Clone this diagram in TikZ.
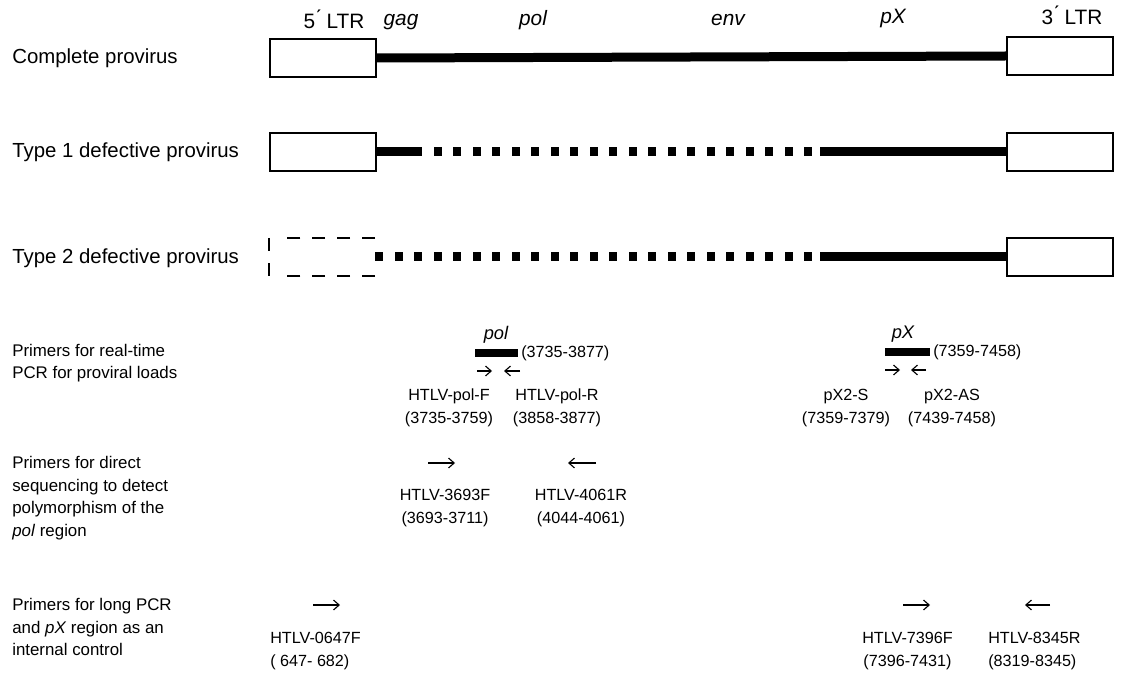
\documentclass[tikz,border=0pt]{standalone}
\usepackage{fontspec}
\setmainfont{Liberation Sans}
\usetikzlibrary{arrows.meta}
\tikzset{
  ltrbox/.style={draw, line width=1.6pt, minimum width=2.65cm, minimum height=0.95cm, inner sep=0pt},
  genome/.style={line width=6.4pt},
  rowlabel/.style={anchor=west, inner sep=0pt, font=\fontsize{14.5}{17}\selectfont},
  primerlabel/.style={anchor=west, inner sep=0pt, align=left, font=\fontsize{12}{16}\selectfont},
  genelabel/.style={inner sep=0pt, font=\fontsize{14.8}{17}\selectfont\itshape},
  ltrlabel/.style={inner sep=0pt, font=\fontsize{14.8}{17}\selectfont},
  primername/.style={inner sep=0pt, align=center, font=\fontsize{11.5}{16.3}\selectfont},
  primerarrow/.style={-{Straight Barb[length=4pt,width=7pt]}, line width=0.8pt},
}
\begin{document}
\begin{tikzpicture}[x=0.025cm, y=-0.025cm]
  \useasboundingbox (0,0) rectangle (1130,675);
  % Complete provirus
  \node[rowlabel] (complete) at (12,58) {Complete provirus};
  \node[ltrbox] (c5) at (323,58) {};
  \node[ltrbox] (c3) at (1060,56) {};
  \draw[genome] (c5.east) -- (c3.west);
  \node[ltrlabel] (ltr5) at (334,19) {5\'{} LTR};
  \node[ltrlabel] (ltr3) at (1072,15) {3\'{} LTR};
  \node[genelabel] (gag) at (401,22) {gag};
  \node[genelabel] (pol) at (533,20) {pol};
  \node[genelabel] (env) at (728,20) {env};
  \node[genelabel] (px) at (893,19) {pX};
  % Type 1: gag stub, deleted middle, pX kept
  \node[rowlabel] (type1) at (12,152) {Type 1 defective provirus};
  \node[ltrbox] (t15) at (323,152) {};
  \node[ltrbox] (t13) at (1060,152) {};
  \coordinate (t1gag) at (422,152);
  \coordinate (t1px) at (820,152);
  \draw[genome] (t15.east) -- (t1gag);
  \draw[genome] (t1px) -- (t13.west);
  \foreach \k in {3,...,22}
    \fill ({375+19.5*\k},147.5) rectangle ++(8,9);
  % Type 2: 5' LTR deleted
  \node[rowlabel] (type2) at (12,258) {Type 2 defective provirus};
  \draw[line width=1.6pt, dash pattern=on 9.2pt off 8.5pt] (375,238) -- (286,238);
  \draw[line width=1.6pt, dash pattern=on 9.2pt off 8.5pt] (375,276) -- (286,276);
  \draw[line width=1.6pt, dash pattern=on 9pt off 9pt] (269,238) -- (269,276);
  \node[ltrbox] (t23) at (1060,257) {};
  \coordinate (t2px) at (820,257);
  \draw[genome] (t2px) -- (t23.west);
  \foreach \k in {0,...,22}
    \fill ({375+19.5*\k},252.5) rectangle ++(8,9);
  % Real-time PCR primers
  \node[primerlabel] (rtpcr) at (12,363) {Primers for real-time\\PCR for proviral loads};
  \node[genelabel, font=\fontsize{13}{15}\selectfont\itshape] (polamp) at (496,335) {pol};
  \draw[line width=5pt] (475,353) -- (518,353);
  \node[primername, anchor=west] (polrange) at (521,353) {(3735-3877)};
  \draw[primerarrow] (477,371) -- (492,371);
  \draw[primerarrow] (520,371) -- (504,371);
  \node[primername] (polF) at (449,408) {HTLV-pol-F\\(3735-3759)};
  \node[primername] (polR) at (557,408) {HTLV-pol-R\\(3858-3877)};
  \node[genelabel, font=\fontsize{13}{15}\selectfont\itshape] (pxamp) at (903,334) {pX};
  \draw[line width=5pt] (885,352) -- (930,352);
  \node[primername, anchor=west] (pxrange) at (933,352) {(7359-7458)};
  \draw[primerarrow] (885,370) -- (900,370);
  \draw[primerarrow] (926,370) -- (911,370);
  \node[primername] (pxS) at (846,408) {pX2-S\\(7359-7379)};
  \node[primername] (pxAS) at (952,408) {pX2-AS\\(7439-7458)};
  % Direct sequencing primers
  \node[primerlabel] (seq) at (12,498) {Primers for direct\\sequencing to detect\\polymorphism of the\\\textit{pol} region};
  \draw[primerarrow] (428,463) -- (455,463);
  \draw[primerarrow] (596,463) -- (568,463);
  \node[primername] (f3693) at (445,508) {HTLV-3693F\\(3693-3711)};
  \node[primername] (r4061) at (581,508) {HTLV-4061R\\(4044-4061)};
  % Long PCR primers
  \node[primerlabel] (longpcr) at (12,627) {Primers for long PCR\\and \textit{pX} region as an\\internal control};
  \draw[primerarrow] (313,605) -- (340,605);
  \node[primername, align=left, anchor=west] (f0647) at (270,651) {HTLV-0647F\\( 647- 682)};
  \draw[primerarrow] (903,605) -- (930,605);
  \draw[primerarrow] (1050,605) -- (1025,605);
  \node[primername, anchor=west] (f7396) at (862,651) {HTLV-7396F\\(7396-7431)};
  \node[primername, align=left, anchor=west] (r8345) at (988,651) {HTLV-8345R\\(8319-8345)};
\end{tikzpicture}
\end{document}
